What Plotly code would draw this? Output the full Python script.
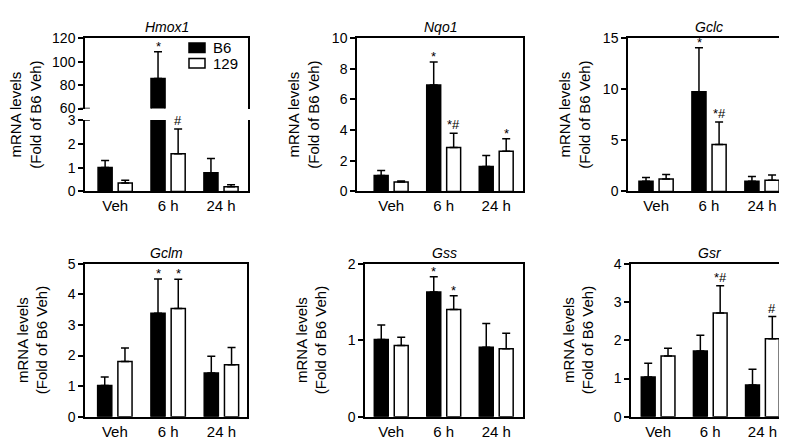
import plotly.graph_objects as go

categories = ["Veh", "6 h", "24 h"]
strains = ["B6", "129"]

genes = ["Hmox1", "Nqo1", "Gclc", "Gclm", "Gss", "Gsr"]

b6_mean = {
    "Hmox1": [1.0, 85.5, 0.78],
    "Nqo1": [1.03, 6.95, 1.62],
    "Gclc": [1.0, 9.75, 1.0],
    "Gclm": [1.02, 3.38, 1.43],
    "Gss": [1.01, 1.63, 0.91],
    "Gsr": [1.04, 1.72, 0.83],
}
b6_sd = {
    "Hmox1": [0.3, 23.0, 0.6],
    "Nqo1": [0.33, 1.5, 0.72],
    "Gclc": [0.35, 4.3, 0.45],
    "Gclm": [0.28, 1.12, 0.55],
    "Gss": [0.19, 0.20, 0.31],
    "Gsr": [0.36, 0.41, 0.41],
}
s129_mean = {
    "Hmox1": [0.35, 1.58, 0.2],
    "Nqo1": [0.62, 2.87, 2.62],
    "Gclc": [1.2, 4.6, 1.1],
    "Gclm": [1.81, 3.54, 1.70],
    "Gss": [0.93, 1.40, 0.89],
    "Gsr": [1.59, 2.71, 2.04],
}
s129_sd = {
    "Hmox1": [0.12, 1.04, 0.08],
    "Nqo1": [0.06, 0.92, 0.82],
    "Gclc": [0.45, 2.2, 0.5],
    "Gclm": [0.44, 0.95, 0.56],
    "Gss": [0.11, 0.18, 0.20],
    "Gsr": [0.20, 0.71, 0.58],
}
b6_sig = {
    "Hmox1": ["", "*", ""],
    "Nqo1": ["", "*", ""],
    "Gclc": ["", "*", ""],
    "Gclm": ["", "*", ""],
    "Gss": ["", "*", ""],
    "Gsr": ["", "", ""],
}
s129_sig = {
    "Hmox1": ["", "#", ""],
    "Nqo1": ["", "*#", "*"],
    "Gclc": ["", "*#", ""],
    "Gclm": ["", "*", ""],
    "Gss": ["", "*", ""],
    "Gsr": ["", "*#", "#"],
}
y_ticks = {
    "Hmox1": [0, 1, 2, 3],
    "Nqo1": [0, 2, 4, 6, 8, 10],
    "Gclc": [0, 5, 10, 15],
    "Gclm": [0, 1, 2, 3, 4, 5],
    "Gss": [0, 1, 2],
    "Gsr": [0, 1, 2, 3, 4],
}
hmox1_upper_ticks = [60, 80, 100, 120]

W, H = 787, 440

# pixel layout of each panel: (left, right, top, bottom)
panels = {
    "Hmox1": (77, 240, 108, 182),
    "Nqo1": (349, 515, 23, 182),
    "Gclc": (620, 781, 23, 182),
    "Gclm": (77, 239, 257, 416),
    "Gss": (357, 515, 257, 416),
    "Gsr": (623, 781, 257, 416),
}
hmox1_upper_px = (23, 96)
x_ranges = {
    "Hmox1": [-0.57, 2.51],
    "Nqo1": [-0.65, 2.51],
    "Gclc": [-0.53, 2.51],
    "Gclm": [-0.56, 2.48],
    "Gss": [-0.50, 2.51],
    "Gsr": [-0.52, 2.51],
}
ytitle_px = {"Hmox1": 18, "Nqo1": 296, "Gclc": 567, "Gclm": 24, "Gss": 303, "Gsr": 570}

FONT = "Liberation Sans, Arial, sans-serif"

fig = go.Figure()


def px2x(p):
    return p / W


def py2y(p):
    return 1 - p / H


axis_line = dict(showline=True, linecolor="black", linewidth=1.5, showgrid=False, zeroline=False)

annotations = []
shapes = []

for i, g in enumerate(genes):
    n = i + 1
    xa = "x" if n == 1 else f"x{n}"
    ya = "y" if n == 1 else f"y{n}"
    targets = [(xa, ya)]
    if g == "Hmox1":
        targets.append(("x7", "y7"))
    for (xx, yy) in targets:
        for s, mean, sd, color in [("B6", b6_mean, b6_sd, "black"), ("129", s129_mean, s129_sd, "white")]:
            fig.add_trace(go.Bar(
                x=categories, y=mean[g], name=s,
                marker=dict(color=color, line=dict(color="black", width=1.5)),
                error_y=dict(type="data", array=sd[g], symmetric=False,
                             arrayminus=[0] * 3, color="black", thickness=1.5, width=4),
                xaxis=xx, yaxis=yy, offsetgroup=s, showlegend=False,
            ))
    l, r, t, b = panels[g]
    xdom = [px2x(l), px2x(r)]
    ydom = [py2y(b), py2y(t)]
    boxed = g != "Hmox1"
    fig.layout[("xaxis" if n == 1 else f"xaxis{n}")] = dict(
        domain=xdom, range=x_ranges[g], anchor=ya, type="category",
        ticks="", tickfont=dict(size=15, color="black", family=FONT),
        mirror=boxed, **axis_line)
    fig.layout[("yaxis" if n == 1 else f"yaxis{n}")] = dict(
        domain=ydom, range=[0, y_ticks[g][-1]], anchor=xa,
        tickvals=y_ticks[g], ticks="outside", ticklen=5, tickwidth=1.5, tickcolor="black",
        tickfont=dict(size=14, color="black", family=FONT), mirror=True, **axis_line)

    # title
    tt = hmox1_upper_px[0] if g == "Hmox1" else t
    annotations.append(dict(x=(xdom[0] + xdom[1]) / 2, y=py2y(tt - 1), xref="paper", yref="paper",
                            text=f"<i>{g}</i>", showarrow=False, xanchor="center", yanchor="bottom",
                            font=dict(size=14, color="black", family=FONT)))
    # y title
    yc = (hmox1_upper_px[0] + b) / 2 if g == "Hmox1" else (t + b) / 2
    annotations.append(dict(x=px2x(ytitle_px[g]), y=py2y(yc), xref="paper", yref="paper",
                            text="mRNA levels<br>(Fold of B6 Veh)", textangle=-90, showarrow=False,
                            xanchor="center", yanchor="middle",
                            font=dict(size=15, color="black", family=FONT)))
    # significance marks
    for sig, mean, sd, shift in [(b6_sig, b6_mean, b6_sd, -10), (s129_sig, s129_mean, s129_sd, 10)]:
        for k, c in enumerate(categories):
            txt = sig[g][k]
            if not txt:
                continue
            val = mean[g][k] + sd[g][k]
            yref = ya
            if g == "Hmox1" and val > y_ticks[g][-1]:
                yref = "y7"
            annotations.append(dict(x=c, y=val, xref=xa, yref=yref, text=txt, showarrow=False,
                                    xanchor="center", yanchor="bottom", xshift=shift,
                                    yshift=(-4 if txt == "*" else -1),
                                    font=dict(size=13, color="black", family=FONT)))

# Hmox1 upper segment of broken axis
l, r, t, b = panels["Hmox1"]
fig.layout["xaxis7"] = dict(domain=[px2x(l), px2x(r)], range=x_ranges["Hmox1"], anchor="y7",
                            type="category", side="top", showticklabels=False, ticks="",
                            mirror=False, **axis_line)
fig.layout["yaxis7"] = dict(domain=[py2y(hmox1_upper_px[1]), py2y(hmox1_upper_px[0])],
                            range=[hmox1_upper_ticks[0], hmox1_upper_ticks[-1]], anchor="x7",
                            tickvals=hmox1_upper_ticks, ticks="outside", ticklen=5, tickwidth=1.5,
                            tickcolor="black", tickfont=dict(size=14, color="black", family=FONT),
                            mirror=True, **axis_line)
# break marks
for yref, yv in [("y7", hmox1_upper_ticks[0]), ("y", y_ticks["Hmox1"][-1])]:
    shapes.append(dict(type="line", xref="x domain", yref=yref, x0=-0.03, x1=0.03, y0=yv, y1=yv,
                       line=dict(color="black", width=1.5)))

# legend (drawn in the Hmox1 panel corner)
legend_fill = {"B6": "black", "129": "white"}
for j, s in enumerate(strains):
    yc = 33 + 16 * j
    shapes.append(dict(type="rect", xref="paper", yref="paper",
                       x0=px2x(181), x1=px2x(197), y0=py2y(yc + 5), y1=py2y(yc - 5),
                       fillcolor=legend_fill[s], line=dict(color="black", width=1.5)))
    annotations.append(dict(x=px2x(204), y=py2y(yc), xref="paper", yref="paper", text=s,
                            showarrow=False, xanchor="left", yanchor="middle", borderpad=0,
                            font=dict(size=15, color="black", family=FONT)))

fig.update_layout(
    width=W, height=H, margin=dict(l=0, r=0, t=0, b=0),
    paper_bgcolor="white", plot_bgcolor="white",
    barmode="group", bargap=0.24, bargroupgap=0.30,
    font=dict(family=FONT, color="black"),
    annotations=annotations, shapes=shapes, showlegend=False,
)

fig.write_html("out.html")
